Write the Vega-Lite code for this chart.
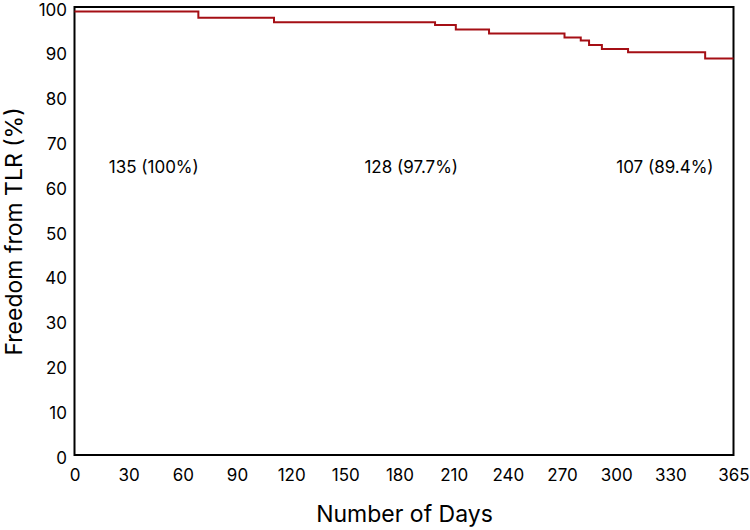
{
  "$schema": "https://vega.github.io/schema/vega-lite/v6.json",
  "width": 659,
  "height": 448,
  "autosize": {"type": "none"},
  "padding": {"left": 74.5, "top": 7, "right": 16.5, "bottom": 75},
  "config": {
    "view": {"stroke": "#000000", "strokeWidth": 2},
    "font": "Inter",
    "axis": {
      "grid": false,
      "ticks": false,
      "domain": false,
      "labelFont": "Inter",
      "labelFontSize": 17,
      "labelColor": "#000000",
      "titleFont": "Inter",
      "titleFontSize": 23,
      "titleFontWeight": "normal",
      "titleColor": "#000000"
    }
  },
  "datasets": {
    "km": [
      {"day": 0, "pct": 99.0},
      {"day": 68.6, "pct": 97.6},
      {"day": 110.5, "pct": 96.6},
      {"day": 199.7, "pct": 96.0},
      {"day": 211.2, "pct": 95.0},
      {"day": 229.6, "pct": 94.1},
      {"day": 271.4, "pct": 93.2},
      {"day": 280.4, "pct": 92.5},
      {"day": 285.0, "pct": 91.5},
      {"day": 292.1, "pct": 90.6},
      {"day": 306.6, "pct": 89.9},
      {"day": 349.3, "pct": 88.5},
      {"day": 365, "pct": 88.5}
    ],
    "labels": [
      {"day": 43.9, "pct": 64.1, "text": "135 (100%)"},
      {"day": 186.5, "pct": 64.1, "text": "128 (97.7%)"},
      {"day": 327, "pct": 64.1, "text": "107 (89.4%)"}
    ]
  },
  "layer": [
    {
      "data": {"name": "km"},
      "mark": {"type": "line", "interpolate": "step-after", "color": "#a50f15", "strokeWidth": 2},
      "encoding": {
        "x": {
          "field": "day", "type": "quantitative",
          "scale": {"domain": [0, 365], "nice": false, "zero": false},
          "axis": {"values": [0, 30, 60, 90, 120, 150, 180, 210, 240, 270, 300, 330, 365], "labelPadding": 12, "titlePadding": 20, "labelFlush": false},
          "title": "Number of Days"
        },
        "y": {
          "field": "pct", "type": "quantitative",
          "scale": {"domain": [0, 100], "nice": false},
          "axis": {"values": [0, 10, 20, 30, 40, 50, 60, 70, 80, 90, 100], "labelPadding": 8, "labelOffset": 3, "titlePadding": 12, "labelFlush": false},
          "title": "Freedom from TLR (%)"
        }
      }
    },
    {
      "data": {"name": "labels"},
      "mark": {"type": "text", "fontSize": 17, "font": "Inter", "color": "#000000", "align": "center", "baseline": "middle"},
      "encoding": {
        "x": {"field": "day", "type": "quantitative"},
        "y": {"field": "pct", "type": "quantitative"},
        "text": {"field": "text"}
      }
    }
  ]
}
